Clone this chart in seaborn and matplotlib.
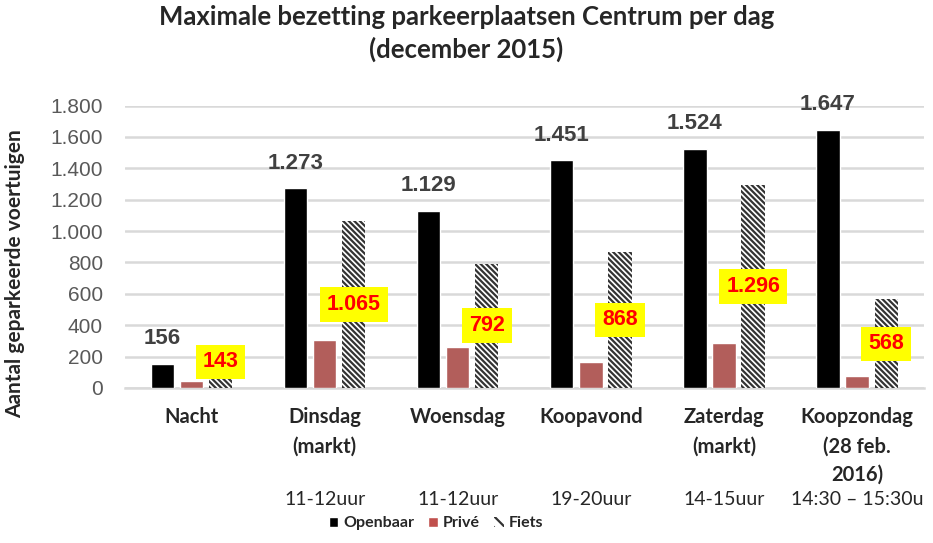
import pandas as pd
import numpy as np
import matplotlib.pyplot as plt
import seaborn as sns
from matplotlib.patches import Patch

categories = ['Nacht', 'Dinsdag\n(markt)', 'Woensdag', 'Koopavond', 'Zaterdag\n(markt)', 'Koopzondag\n(28 feb.\n2016)']
tijden = ['', '11-12uur', '11-12uur', '19-20uur', '14-15uur', '14:30 \u2013 15:30u']
openbaar = [156, 1273, 1129, 1451, 1524, 1647]
prive = [45, 306, 262, 166, 287, 77]
fiets = [143, 1065, 792, 868, 1296, 568]
series = ['Openbaar', 'Privé', 'Fiets']

# where the yellow boxes sit (data units), layout only
box_y = [166, 530, 396, 434, 645, 281]

def nl(v):
    return f'{v:,}'.replace(',', '.')

df = pd.DataFrame({'cat': categories * 3,
                   'soort': ['Openbaar'] * 6 + ['Privé'] * 6 + ['Fiets'] * 6,
                   'aantal': openbaar + prive + fiets})

sns.set_style('white')
plt.rcParams['font.family'] = ['Liberation Sans', 'DejaVu Sans']
plt.rcParams['hatch.linewidth'] = 1.6

fig = plt.figure(figsize=(9.33, 5.43), dpi=100)
ax = fig.add_axes([0.134, 0.2855, 0.856, 0.52])
colors = ['#000000', '#c0504d', '#ffffff']
sns.barplot(data=df, x='cat', y='aantal', hue='soort', hue_order=series, palette=colors,
            width=0.655, gap=0.2, ax=ax, legend=False, zorder=3)

ax.set_ylim(0, 1800)
ax.set_yticks(range(0, 1801, 200))
ax.set_yticklabels([nl(v) for v in range(0, 1801, 200)], color='#595959', fontsize=15)
ax.yaxis.grid(True, color='#d9d9d9', linewidth=1.8, zorder=0)
for s in ['top', 'right', 'left']:
    ax.spines[s].set_visible(False)
ax.spines['bottom'].set_color('#d9d9d9')
ax.spines['bottom'].set_linewidth(1.8)
ax.tick_params(axis='both', length=0)
ax.tick_params(axis='y', pad=16)
ax.set_xlabel('')
ax.set_xticks(range(len(categories)))
ax.set_xticklabels(categories, fontsize=14.5, fontweight='bold', family='Lato', color='#262626', va='top',
                   linespacing=1.55)
ax.tick_params(axis='x', pad=14)
ax.set_ylabel('Aantal geparkeerde voertuigen', fontsize=15, fontweight='bold', family='Lato')
ax.yaxis.set_label_coords(-0.125, 0.404)

conts = ax.containers
for p in conts[2]:
    p.set_hatch('\\\\\\\\\\\\')
    p.set_edgecolor('#333333')
    p.set_linewidth(0)

for p, v in zip(conts[0], openbaar):
    ax.annotate(nl(v), (p.get_x() + p.get_width() / 2, v), xytext=(0, 18), textcoords='offset points',
                ha='center', va='center', fontsize=16, fontweight='bold', color='#404040')

for i, (p, v) in enumerate(zip(conts[2], fiets)):
    xc = p.get_x() + p.get_width() / 2
    ax.text(xc, box_y[i], nl(v), ha='center', va='center', fontsize=15.5, fontweight='bold', color='#ff0000',
            bbox=dict(facecolor='#ffff00', edgecolor='none', pad=5), zorder=5)

for i, t in enumerate(tijden):
    ax.text(i, -712, t, ha='center', va='center', fontsize=14, family='Lato', color='#262626')

fig.suptitle('Maximale bezetting parkeerplaatsen Centrum per dag\n(december 2015)', y=0.99,
             fontsize=18.5, fontweight='bold', family='Lato', color='#262626', linespacing=1.35)

handles = [Patch(facecolor='#000000'), Patch(facecolor='#c0504d'),
           Patch(facecolor='white', hatch='\\\\\\', edgecolor='#333333', linewidth=0)]
fig.legend(handles, series, loc='center', bbox_to_anchor=(0.467, 0.036), ncol=3, frameon=False,
           prop={'family': 'Lato', 'weight': 'bold', 'size': 11.5}, handlelength=0.6, handleheight=0.6,
           columnspacing=0.9, handletextpad=0.3)

fig.savefig('out.png', dpi=100)
